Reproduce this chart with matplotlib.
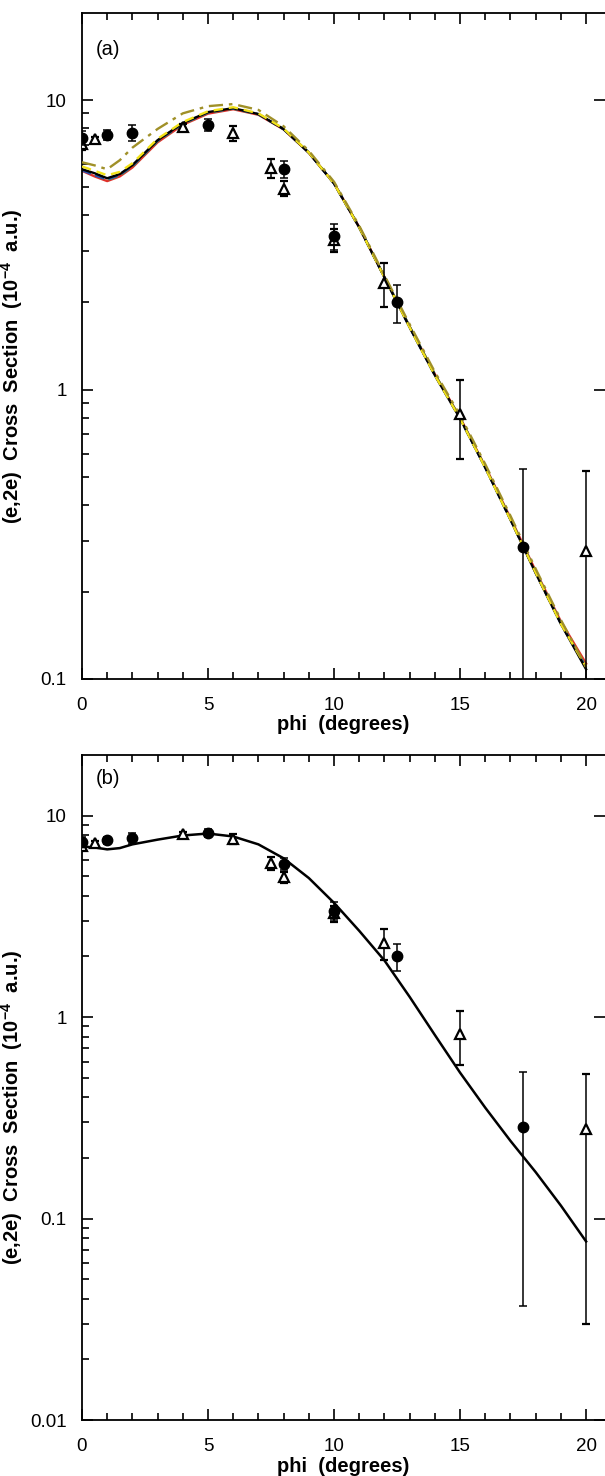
import numpy
import matplotlib as mpl

mpl.use('Agg')

import matplotlib.pyplot as plt
from matplotlib.ticker import FixedLocator, MultipleLocator, NullFormatter
#
#--- theory curves, panel (a)
#
phi      = [0, 0.5, 1, 1.5, 2, 3, 4, 5, 6, 7, 8, 9, 10, 11, 12, 13, 14, 15, 16, 17, 18, 19, 20]

a_black  = [5.77, 5.59, 5.37, 5.55, 5.96, 7.27, 8.33, 9.09, 9.38, 8.95, 7.94, 6.58, 5.15, 3.63,
            2.44, 1.64, 1.12, 0.794, 0.537, 0.355, 0.232, 0.155, 0.108]
a_red    = [5.70, 5.45, 5.25, 5.45, 5.85, 7.15, 8.22, 8.98, 9.30, 8.90, 7.92, 6.58, 5.16, 3.64,
            2.45, 1.65, 1.13, 0.800, 0.542, 0.360, 0.236, 0.158, 0.113]
a_green  = [5.74, 5.52, 5.30, 5.50, 5.90, 7.22, 8.28, 9.05, 9.35, 8.93, 7.94, 6.59, 5.16, 3.64,
            2.45, 1.65, 1.13, 0.797, 0.540, 0.357, 0.234, 0.156, 0.110]
a_blue   = [5.72, 5.50, 5.32, 5.52, 5.92, 7.24, 8.30, 9.07, 9.36, 8.94, 7.93, 6.58, 5.15, 3.63,
            2.44, 1.64, 1.12, 0.794, 0.537, 0.355, 0.233, 0.155, 0.109]
a_yellow = [5.90, 5.70, 5.50, 5.65, 6.05, 7.35, 8.40, 9.15, 9.45, 9.00, 7.97, 6.59, 5.15, 3.63,
            2.44, 1.64, 1.12, 0.794, 0.537, 0.355, 0.233, 0.155, 0.110]
a_olive  = [6.10, 5.95, 5.77, 6.20, 6.85, 7.95, 9.00, 9.53, 9.69, 9.25, 8.12, 6.68, 5.22, 3.68,
            2.48, 1.68, 1.15, 0.815, 0.552, 0.366, 0.240, 0.160, 0.110]
#
#--- theory curve, panel (b)
#
b_black  = [7.03, 6.95, 6.80, 6.90, 7.20, 7.60, 7.97, 8.15, 7.88, 7.20, 6.14, 4.90, 3.69, 2.68,
            1.91, 1.26, 0.815, 0.53, 0.355, 0.243, 0.170, 0.116, 0.077]
#
#--- measured data: filled circles and open triangles
#
circ_x   = [0, 1, 2, 5, 8, 10, 12.5, 17.5]
circ_y   = [7.40, 7.57, 7.70, 8.20, 5.77, 3.38, 2.00, 0.285]
circ_e   = [0.40, 0.30, 0.50, 0.40, 0.40, 0.35, 0.30, 0.248]

tri_x    = [0, 0.5, 4, 6, 7.5, 8, 10, 12, 15, 20]
tri_y    = [7.05, 7.33, 8.07, 7.69, 5.82, 4.95, 3.28, 2.33, 0.826, 0.277]
tri_e    = [0.30, 0.15, 0.20, 0.45, 0.42, 0.30, 0.30, 0.40, 0.25, 0.247]

yticks_a = [0.1, 1, 10]
ylabs_a  = ['0.1', '1', '10']
yticks_b = [0.01, 0.1, 1, 10]
ylabs_b  = ['0.01', '0.1', '1', '10']
xticks   = [0, 5, 10, 15, 20]

plt.rcParams['font.family'] = ['Liberation Sans', 'DejaVu Sans']
plt.rcParams['mathtext.fontset'] = 'custom'
plt.rcParams['mathtext.rm'] = 'Liberation Sans'
plt.rcParams['mathtext.bf'] = 'Liberation Sans:bold'

#--------------------------------------------------------------------------------
#-- set_axis: common axis setting for each panel                               --
#--------------------------------------------------------------------------------

def set_axis(ax, ymin, yticks, ylabs, tag):
    """
    set axis scale, ticks and labels
    input:  ax      --- axis
            ymin    --- lower y limit
            yticks  --- major y tick positions
            ylabs   --- major y tick labels
            tag     --- panel tag
    """
    ax.set_yscale('log')
    ax.set_xlim(0, 20.75)
    ax.set_ylim(ymin, 20)

    ax.xaxis.set_major_locator(FixedLocator(xticks))
    ax.xaxis.set_minor_locator(MultipleLocator(1))
    ax.set_xticklabels([str(v) for v in xticks])

    ax.yaxis.set_major_locator(FixedLocator(yticks))
    ax.set_yticklabels(ylabs)
    minor = []
    for dec in yticks:
        for k in range(2, 10):
            if dec * k < 20:
                minor.append(dec * k)
    ax.yaxis.set_minor_locator(FixedLocator(minor))
    ax.yaxis.set_minor_formatter(NullFormatter())

    ax.tick_params(axis='both', which='major', direction='in', length=8, width=1.2,
                   labelsize=13.5, pad=11)
    ax.tick_params(axis='both', which='minor', direction='in', length=5, width=1.2)
    ax.tick_params(axis='x', which='both', top=True)
    ax.tick_params(axis='x', which='major', pad=13)
    ax.tick_params(axis='y', which='major', right=True)
    ax.tick_params(axis='y', which='minor', right=False)

    ax.spines['right'].set_visible(False)
    for side in ['left', 'top', 'bottom']:
        ax.spines[side].set_linewidth(1.3)

    ax.set_xlabel('phi  (degrees)', fontsize=14.5, fontweight='bold', labelpad=1)
    ax.set_ylabel(r'(e,2e)  Cross  Section  (10$^{\mathbf{-4}}$  a.u.)', fontsize=14.5,
                  fontweight='bold')
    ax.yaxis.set_label_coords(-0.108, 0.47)
    ax.text(0.55, 14.3, tag, fontsize=14.5)

#--------------------------------------------------------------------------------
#-- plot_data: put the measured points on the panel                            --
#--------------------------------------------------------------------------------

def plot_data(ax):
    ax.errorbar(tri_x, tri_y, yerr=tri_e, fmt='^', ms=7.5, mfc='white', mec='black', mew=1.6,
                ecolor='black', elinewidth=1.1, capsize=3, capthick=1.1, zorder=5)
    ax.errorbar(circ_x, circ_y, yerr=circ_e, fmt='o', ms=7.5, mfc='black', mec='black',
                ecolor='black', elinewidth=1.1, capsize=3, capthick=1.1, zorder=6)

fig = plt.figure(figsize=(6.05, 14.76), dpi=100)
#
#--- panel (a)
#
ax1 = fig.add_axes([0.1355, 0.5400, 0.8645, 0.4512])
ax1.plot(phi, a_red,    color='#e0302a', lw=1.7, zorder=2)
ax1.plot(phi, a_green,  color='#3c9a3c', lw=1.7, ls=(0, (4, 2)), zorder=2)
ax1.plot(phi, a_blue,   color='#2a4fb0', lw=1.7, ls=(0, (4, 2)), zorder=2)
ax1.plot(phi, a_black,  color='black',   lw=1.7, zorder=3)
ax1.plot(phi, a_yellow, color='#f2e21a', lw=1.7, ls=(0, (4, 2.5)), zorder=3)
ax1.plot(phi, a_olive,  color='#a09028', lw=1.7, ls=(0, (6, 2.5, 1.5, 2.5)), zorder=3)
plot_data(ax1)
set_axis(ax1, 0.1, yticks_a, ylabs_a, '(a)')
#
#--- panel (b)
#
ax2 = fig.add_axes([0.1355, 0.0379, 0.8645, 0.4506])
ax2.plot(phi, b_black, color='black', lw=1.8, zorder=3)
plot_data(ax2)
set_axis(ax2, 0.01, yticks_b, ylabs_b, '(b)')

plt.savefig('out.png', dpi=100)
plt.close('all')
